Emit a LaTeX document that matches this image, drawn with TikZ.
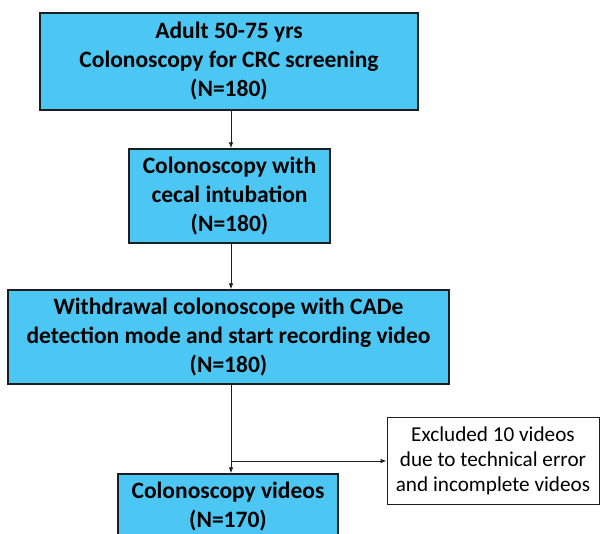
\documentclass[tikz,border=0pt]{standalone}
\usepackage{fontspec}
\setmainfont{Carlito}
\usetikzlibrary{arrows.meta}
\definecolor{boxblue}{RGB}{76,199,243}
\definecolor{edge}{RGB}{30,30,30}
\tikzset{
  bluebox/.style={draw=edge, line width=1.4pt, fill=boxblue, align=center, inner sep=0pt,
    font=\fontsize{23.5}{29}\selectfont\bfseries},
  whitebox/.style={draw=edge, line width=1pt, fill=white, align=center, inner sep=0pt,
    font=\fontsize{21.2}{25}\selectfont},
  conn/.style={draw=edge, line width=0.9pt, -{Latex[length=6pt,width=4.5pt]}},
  plain/.style={draw=edge, line width=0.9pt}
}
\begin{document}
\begin{tikzpicture}[x=1pt,y=-1pt]
\useasboundingbox (0,0) rectangle (600,534);
\clip (0,0) rectangle (600,534);
\node[bluebox, minimum width=378pt, minimum height=97pt] (b1) at (229,61.5)
  {Adult 50-75 yrs\\Colonoscopy for CRC screening\\(N=180)};
\node[bluebox, minimum width=201pt, minimum height=94pt] (b2) at (229.5,196)
  {Colonoscopy with\\cecal intubation\\(N=180)};
\node[bluebox, minimum width=441pt, minimum height=94pt] (b3) at (228.5,337)
  {Withdrawal colonoscope with CADe\\detection mode and start recording video\\(N=180)};
\node[bluebox, minimum width=220pt, minimum height=66pt] (b4) at (228,507)
  {Colonoscopy videos\\(N=170)};
\node[whitebox, minimum width=212pt, minimum height=86pt] (ex) at (493,461)
  {Excluded 10 videos\\due to technical error\\and incomplete videos};
\coordinate (a1) at (231,0);
\draw[conn] (b1.south -| a1) -- (b2.north -| a1);
\draw[conn] (b2.south -| a1) -- (b3.north -| a1);
\draw[conn] (b3.south -| a1) -- (b4.north -| a1);
\coordinate (j) at (a1 |- ex.west);
\draw[conn] (j) -- (ex.west);
\end{tikzpicture}
\end{document}
